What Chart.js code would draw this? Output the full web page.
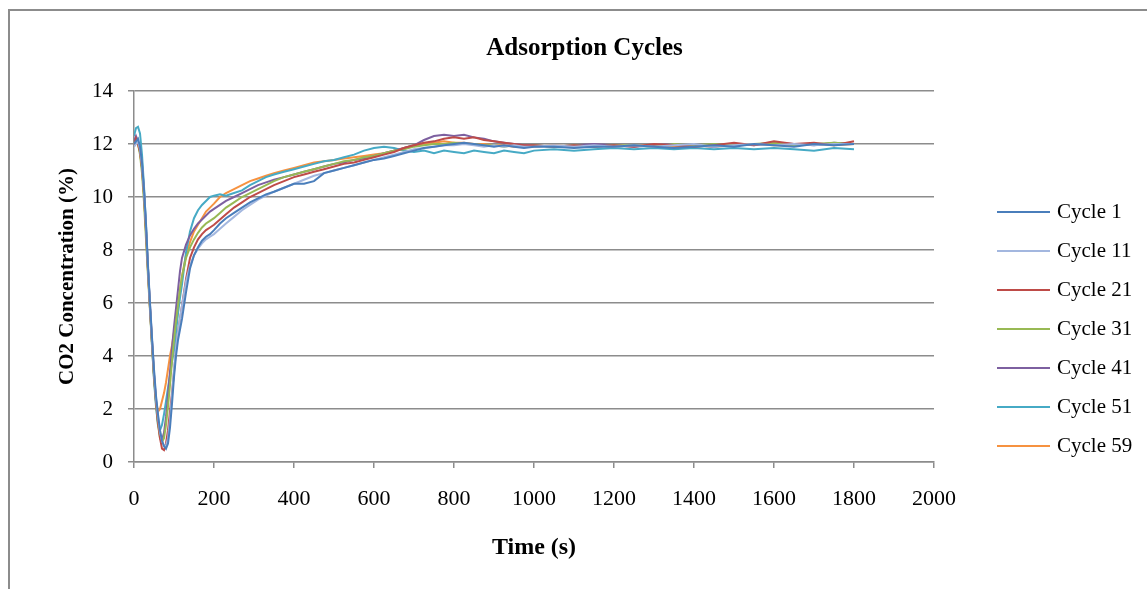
<!DOCTYPE html>
<html>
<head>
<meta charset="utf-8">
<title>Adsorption Cycles</title>
<script src="https://cdn.jsdelivr.net/npm/chart.js@4.4.1/dist/chart.umd.min.js"></script>
<style>
    html, body { margin: 0; padding: 0; background: #fff; overflow: hidden; }
    #wrap { position: relative; width: 1147px; height: 589px; }
    #frame { position: absolute; left: 8px; top: 9px; width: 1200px; height: 700px; border: 2px solid #8c8c8c; box-sizing: border-box; }
    canvas { position: absolute; left: 0; top: 0; }
</style>
</head>
<body>
<div id="wrap">
    <div id="frame"></div>
    <canvas id="myChart" width="1147" height="589"></canvas>
</div>
<script>
// Tiempo (s)
var times = [
    0, 5, 10, 15, 20, 25, 30, 35, 40, 45, 50, 55, 60, 65, 70, 75, 80, 85, 90, 95, 100, 105, 110, 115, 120,
    130, 140, 150, 160, 170, 180, 190, 200,
    215, 230, 250, 270, 290, 310, 330, 350,
    375, 400, 425, 450, 475, 500, 525, 550, 575, 600, 625, 650, 675, 700, 725, 750, 775, 800, 825, 850, 875, 900, 925, 950, 975, 1000,
    1050, 1100, 1150, 1200, 1250, 1300, 1350, 1400, 1450, 1500, 1550, 1600, 1650, 1700, 1750, 1800
];

var cycleLabels = ['Cycle 1', 'Cycle 11', 'Cycle 21', 'Cycle 31', 'Cycle 41', 'Cycle 51', 'Cycle 59'];
var cycleColors = ['#4a7ebb', '#a3b7df', '#be4b48', '#98b954', '#7d60a0', '#46aac5', '#f69240'];

// Concentracion de CO2 (%) por ciclo
var cycle1 = [
    12.0, 12.1, 12.2, 11.9, 11.3, 10.3, 9.0, 7.4, 6.0, 4.7, 3.5, 2.5, 1.8, 1.2, 0.8, 0.6, 0.5, 0.7, 1.3, 2.2, 3.2, 4.0, 4.6, 5.0, 5.4,
    6.4, 7.3, 7.8, 8.1, 8.35, 8.5, 8.6, 8.75,
    9.0, 9.2, 9.4, 9.6, 9.8, 9.95, 10.1, 10.2,
    10.35, 10.5, 10.5, 10.6, 10.9, 11.0, 11.1, 11.2, 11.3, 11.4, 11.45, 11.55, 11.65, 11.75, 11.85, 11.9, 11.95, 12.0, 12.05, 12.0, 11.95, 11.9, 11.95, 11.9, 11.85, 11.9,
    11.9, 11.85, 11.9, 11.9, 11.95, 11.9, 11.85, 11.9, 11.95, 11.9, 12.0, 11.95, 11.9, 12.0, 11.95, 12.0
];
var cycle11 = [
    11.9, 12.0, 12.1, 11.8, 11.2, 10.2, 8.9, 7.3, 5.9, 4.6, 3.4, 2.4, 1.7, 1.1, 0.8, 0.6, 0.6, 0.9, 1.6, 2.5, 3.5, 4.3, 4.9, 5.4, 5.9,
    6.8, 7.4, 7.8, 8.05, 8.25, 8.4, 8.5, 8.6,
    8.8, 9.0, 9.25, 9.5, 9.7, 9.9, 10.05, 10.2,
    10.35, 10.5, 10.65, 10.8, 10.9, 11.0, 11.1, 11.2, 11.3, 11.4, 11.5, 11.6, 11.7, 11.8, 11.85, 11.9, 11.95, 11.95, 12.0, 11.95, 11.9, 11.95, 11.9, 11.95, 11.9, 11.9,
    11.95, 11.9, 11.95, 11.9, 11.95, 11.9, 11.95, 12.0, 11.9, 11.95, 12.0, 11.95, 12.0, 11.95, 12.0, 12.0
];
var cycle21 = [
    11.9, 12.2, 12.0, 11.7, 11.1, 10.1, 8.7, 7.2, 5.8, 4.5, 3.3, 2.3, 1.5, 0.9, 0.5, 0.45, 0.7, 1.2, 1.9, 2.6, 3.4, 4.2, 4.9, 5.4, 5.9,
    6.9, 7.7, 8.1, 8.4, 8.6, 8.75, 8.85, 8.95,
    9.15, 9.35, 9.6, 9.8, 10.0, 10.15, 10.3, 10.45,
    10.6, 10.75, 10.85, 10.95, 11.05, 11.15, 11.25, 11.3, 11.4, 11.5, 11.6, 11.7, 11.85, 11.95, 12.05, 12.1, 12.2, 12.25, 12.2, 12.25, 12.15, 12.1, 12.05, 12.0, 11.95, 11.95,
    11.9, 11.95, 11.9, 11.95, 11.9, 12.0, 11.95, 11.9, 11.95, 12.05, 11.95, 12.1, 12.0, 12.05, 11.95, 12.1
];
var cycle31 = [
    12.0, 12.1, 12.0, 11.6, 10.9, 9.8, 8.4, 7.0, 5.7, 4.4, 3.2, 2.2, 1.4, 0.9, 0.75, 0.9, 1.4, 2.1, 2.9, 3.8, 4.6, 5.3, 5.9, 6.5, 7.0,
    7.7, 8.1, 8.4, 8.65, 8.85, 9.0, 9.1, 9.2,
    9.4, 9.6, 9.8, 10.0, 10.15, 10.3, 10.45, 10.6,
    10.75, 10.85, 10.95, 11.05, 11.15, 11.25, 11.35, 11.4, 11.5, 11.55, 11.65, 11.75, 11.8, 11.9, 11.95, 12.0, 12.0, 12.05, 12.0, 12.0, 11.95, 11.95, 11.9, 11.95, 11.9, 11.95,
    11.9, 11.95, 11.9, 11.95, 11.95, 11.9, 12.0, 11.95, 12.0, 11.95, 12.0, 12.05, 11.95, 12.0, 12.05, 12.0
];
var cycle41 = [
    12.1, 12.3, 12.1, 11.8, 11.2, 10.2, 8.8, 7.3, 5.9, 4.6, 3.3, 2.3, 1.5, 1.0, 0.85, 1.1, 1.7, 2.5, 3.4, 4.3, 5.1, 5.8, 6.5, 7.2, 7.7,
    8.2, 8.55, 8.8, 9.0, 9.15, 9.3, 9.45, 9.55,
    9.7, 9.85, 10.0, 10.15, 10.3, 10.45, 10.55, 10.65,
    10.75, 10.85, 10.95, 11.05, 11.15, 11.25, 11.3, 11.4, 11.45, 11.55, 11.65, 11.75, 11.85, 11.95, 12.15, 12.3, 12.35, 12.3, 12.35, 12.25, 12.2, 12.1, 12.05, 12.0, 11.95, 11.95,
    11.9, 11.95, 12.0, 11.95, 11.9, 11.95, 12.0, 11.95, 11.9, 12.0, 11.95, 12.05, 12.0, 11.95, 12.05, 12.0
];
var cycle51 = [
    12.3, 12.6, 12.65, 12.4, 11.6, 10.4, 8.9, 7.3, 5.8, 4.4, 3.1, 2.1, 1.4, 1.2, 1.4, 1.8, 2.3, 2.8, 3.3, 3.8, 4.2, 4.9, 5.6, 6.2, 6.7,
    7.9, 8.7, 9.2, 9.5, 9.7, 9.85, 10.0, 10.05,
    10.1, 10.05, 10.15, 10.25, 10.45, 10.6, 10.75, 10.85,
    10.95, 11.05, 11.15, 11.25, 11.35, 11.4, 11.5, 11.6, 11.75, 11.85, 11.9, 11.85, 11.75, 11.7, 11.75, 11.65, 11.75, 11.7, 11.65, 11.75, 11.7, 11.65, 11.75, 11.7, 11.65, 11.75,
    11.8, 11.75, 11.8, 11.85, 11.8, 11.85, 11.8, 11.85, 11.8, 11.85, 11.8, 11.85, 11.8, 11.75, 11.85, 11.8
];
var cycle59 = [
    12.0, 12.1, 12.0, 11.7, 11.1, 10.1, 8.7, 7.2, 5.8, 4.5, 3.2, 2.3, 1.9, 2.0, 2.3, 2.6, 3.0, 3.5, 4.0, 4.4, 4.9, 5.4, 5.8, 6.5, 7.0,
    7.8, 8.3, 8.7, 8.95, 9.2, 9.45, 9.6, 9.75,
    10.0, 10.15, 10.3, 10.45, 10.6, 10.7, 10.8, 10.9,
    11.0, 11.1, 11.2, 11.3, 11.35, 11.4, 11.45, 11.5, 11.55, 11.6, 11.65, 11.75, 11.85, 11.95, 12.0, 12.05, 12.1, 12.05, 12.05, 12.0, 12.0, 11.95, 11.95, 11.9, 11.95, 11.9,
    11.95, 11.9, 11.95, 11.9, 11.95, 11.95, 11.9, 11.95, 11.9, 11.95, 12.0, 11.95, 11.95, 12.0, 11.95, 12.0
];

var cycleValues = [cycle1, cycle11, cycle21, cycle31, cycle41, cycle51, cycle59];

var xTicks = [0, 200, 400, 600, 800, 1000, 1200, 1400, 1600, 1800, 2000];
var yTicks = [0, 2, 4, 6, 8, 10, 12, 14];

var serif = '"Liberation Serif", "Times New Roman", serif';
var gridGray = '#8c8c8c';

document.addEventListener('DOMContentLoaded', function () {
    createLineChart();
});

// Leyenda a la derecha, al estilo de Excel
var sideLegend = {
    id: 'sideLegend',
    afterDraw: function (chart) {
        var ctx = chart.ctx;
        var x0 = chart.chartArea.right + 63;
        ctx.save();
        ctx.font = '21px ' + serif;
        ctx.textBaseline = 'middle';
        ctx.fillStyle = '#000';
        chart.data.datasets.forEach(function (ds, i) {
            var y = 212 + i * 39;
            ctx.strokeStyle = ds.borderColor;
            ctx.lineWidth = 2;
            ctx.beginPath();
            ctx.moveTo(x0, y);
            ctx.lineTo(x0 + 53, y);
            ctx.stroke();
            ctx.fillText(ds.label, x0 + 60, y);
        });
        ctx.restore();
    }
};

function createLineChart() {
    var ctx = document.getElementById('myChart').getContext('2d');

    var datasets = cycleLabels.map(function (label, i) {
        return {
            label: label,
            data: times.map(function (t, j) { return { x: t, y: cycleValues[i][j] }; }),
            borderColor: cycleColors[i],
            backgroundColor: cycleColors[i],
            borderWidth: 2,
            pointRadius: 0,
            tension: 0,
            fill: false
        };
    });

    var myChart = new Chart(ctx, {
        type: 'line',
        data: { datasets: datasets },
        options: {
            responsive: false,
            animation: false,
            devicePixelRatio: 1,
            layout: { padding: { left: 22, right: 0, top: 0, bottom: 0 } },
            plugins: {
                legend: { display: false },
                tooltip: { enabled: false },
                title: {
                    display: true,
                    text: 'Adsorption Cycles',
                    color: '#000',
                    font: { family: serif, size: 25, weight: 'bold' },
                    padding: { top: 34, bottom: 27 }
                }
            },
            scales: {
                x: {
                    type: 'linear',
                    min: 0,
                    max: 2000,
                    afterFit: function (s) { s.height = 127; },
                    afterBuildTicks: function (s) { s.ticks = xTicks.map(function (v) { return { value: v }; }); },
                    ticks: {
                        color: '#000',
                        font: { family: serif, size: 22 },
                        padding: 18,
                        maxRotation: 0,
                        callback: function (v) { return String(v); }
                    },
                    grid: { drawOnChartArea: false, drawTicks: true, tickLength: 6, color: gridGray, lineWidth: 1.5 },
                    border: { display: true, color: gridGray, width: 1.5 },
                    title: {
                        display: true,
                        text: 'Time (s)',
                        color: '#000',
                        font: { family: serif, size: 24, weight: 'bold' },
                        padding: { bottom: 27 }
                    }
                },
                y: {
                    type: 'linear',
                    min: 0,
                    max: 14,
                    afterFit: function (s) { s.width = 112; },
                    afterBuildTicks: function (s) { s.ticks = yTicks.map(function (v) { return { value: v }; }); },
                    ticks: { color: '#000', font: { family: serif, size: 21 }, padding: 15 },
                    grid: { drawTicks: true, tickLength: 6, color: gridGray, lineWidth: 1.5 },
                    border: { display: true, color: gridGray, width: 1.5 },
                    title: {
                        display: true,
                        text: 'CO2 Concentration (%)',
                        color: '#000',
                        font: { family: serif, size: 21, weight: 'bold' },
                        padding: { top: 33 }
                    }
                },
                yLegendSpace: {
                    type: 'linear',
                    position: 'right',
                    afterFit: function (s) { s.width = 213; },
                    ticks: { display: false },
                    grid: { display: false },
                    border: { display: false }
                }
            }
        },
        plugins: [sideLegend]
    });
}
</script>
</body>
</html>
